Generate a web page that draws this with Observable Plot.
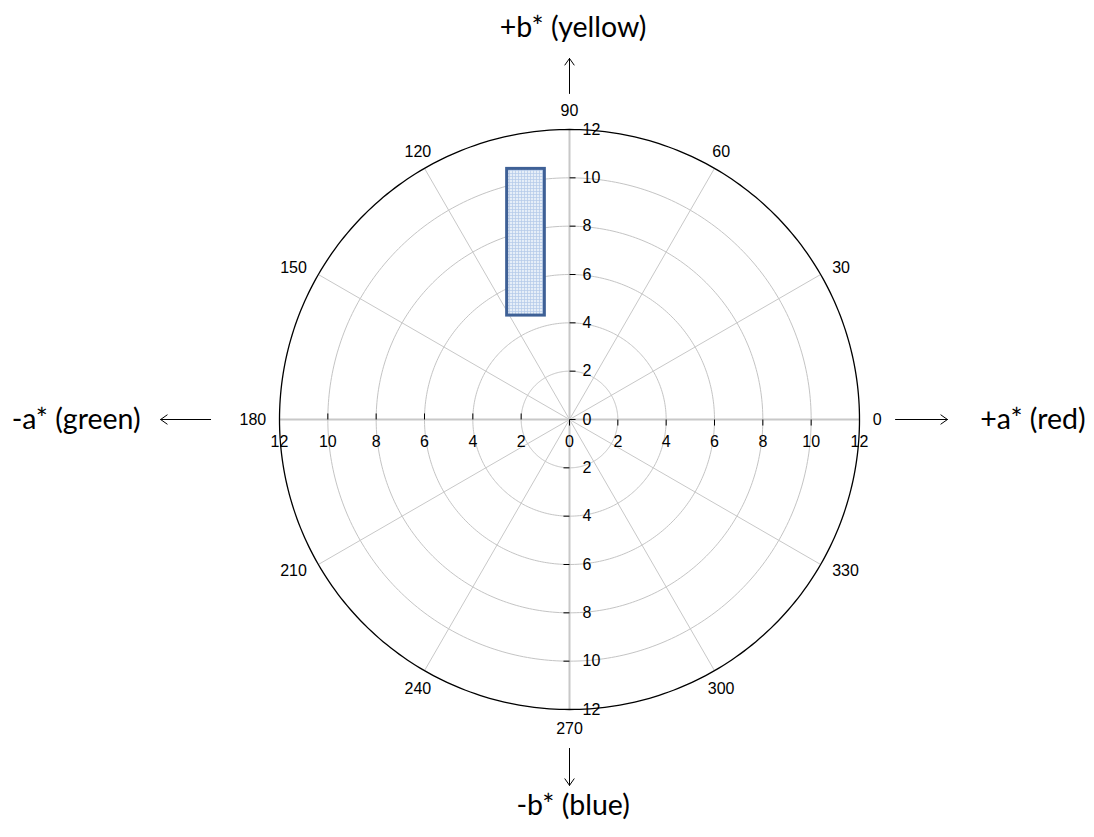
<!DOCTYPE html>
<html>
<head>
<meta charset="utf-8">
<script src="https://cdn.jsdelivr.net/npm/d3@7"></script>
<script src="https://cdn.jsdelivr.net/npm/@observablehq/plot@0.6"></script>
<style>
  html, body { margin: 0; padding: 0; background: #fff; }
  #chart svg { display: block; }
</style>
</head>
<body>
<svg width="0" height="0" style="position:absolute">
  <defs>
    <pattern id="gridfill" width="3" height="3" patternUnits="userSpaceOnUse">
      <rect width="3" height="3" fill="#e6eef8"></rect>
      <path d="M2.5 0V3M0 2.5H3" stroke="#b3c9e8" stroke-width="0.7"></path>
    </pattern>
  </defs>
</svg>
<div id="chart"></div>
<script>
// ---- data ----
const ringRadii = [2, 4, 6, 8, 10];
const outerRadius = 12;
const spokeAngles = [0, 30, 60, 90, 120, 150, 180, 210, 240, 270, 300, 330];
const angleLabels = ["0", "30", "60", "90", "120", "150", "180", "210", "240", "270", "300", "330"];
const axisTicks = [-12, -10, -8, -6, -4, -2, 0, 2, 4, 6, 8, 10, 12];
const tickLabels = ["12", "10", "8", "6", "4", "2", "0", "2", "4", "6", "8", "10", "12"];
const rangeA = [-2.58, -1.02];   // a* extent of the box
const rangeB = [4.30, 10.37];    // b* extent of the box
const axisTitles = ["+a* (red)", "+b* (yellow)", "-a* (green)", "-b* (blue)"];

// ---- derived geometry ----
const deg = Math.PI / 180;
function circlePts(r) {
  const pts = [];
  for (let t = 0; t <= 360; t += 1) pts.push({r, x: r * Math.cos(t * deg), y: r * Math.sin(t * deg)});
  return pts;
}
const ringPts = ringRadii.flatMap(circlePts);
const outerPts = circlePts(outerRadius);
const spokes = spokeAngles.map(a => ({x: outerRadius * Math.cos(a * deg), y: outerRadius * Math.sin(a * deg), a}));
const mainAxes = spokes.filter(d => d.a % 90 === 0);
const lr = 12.55;
const angleData = spokeAngles.map((a, i) => {
  const c = Math.cos(a * deg), s = Math.sin(a * deg);
  return {label: angleLabels[i], c, s, x: lr * c, y: lr * s};
});
const tickData = axisTicks.map((v, i) => ({v, label: tickLabels[i], t: v >= 0 ? 0.25 : -0.25}));
const box = [{x1: rangeA[0], x2: rangeA[1], y1: rangeB[0], y2: rangeB[1]}];
const titleFont = "Lato, 'Open Sans', sans-serif";
const titleSize = 28.5;
const arrowOpts = {x1: "x1", y1: "y1", x2: "x2", y2: "y2", stroke: "#000", strokeWidth: 1, headLength: 12, headAngle: 70};

const chart = Plot.plot({
  width: 1094,
  height: 837,
  marginLeft: 279,
  marginRight: 235,
  marginTop: 129,
  marginBottom: 128,
  x: {domain: [-12, 12], axis: null},
  y: {domain: [-12, 12], axis: null},
  style: {fontFamily: "'Liberation Sans', Arial, sans-serif", fontSize: "16px", background: "#fff", color: "#000"},
  marks: [
    Plot.line(ringPts, {x: "x", y: "y", z: "r", stroke: "#c4c4c4", strokeWidth: 1}),
    Plot.link(spokes, {x1: 0, y1: 0, x2: "x", y2: "y", stroke: "#c8c8c8", strokeWidth: 1}),
    Plot.link(mainAxes, {x1: 0, y1: 0, x2: "x", y2: "y", stroke: "#c8c8c8", strokeWidth: 2}),
    Plot.line(outerPts, {x: "x", y: "y", stroke: "#000", strokeWidth: 1.3}),
    // ticks
    Plot.link(tickData, {x1: 0, x2: "t", y1: "v", y2: "v", stroke: "#000", strokeWidth: 1}),
    Plot.link(tickData, {y1: 0, y2: d => -d.t, x1: "v", x2: "v", stroke: "#000", strokeWidth: 1}),
    Plot.text(tickData, {x: 0, y: "v", text: "label", dx: 13, textAnchor: "start", fill: "#000"}),
    Plot.text(tickData, {x: "v", y: 0, text: "label", dy: 22, fill: "#000"}),
    // angle labels
    Plot.text(angleData.filter(d => d.c > 0.6), {x: "x", y: "y", text: "label", textAnchor: "start", fill: "#000"}),
    Plot.text(angleData.filter(d => d.c < -0.6), {x: "x", y: "y", text: "label", textAnchor: "end", fill: "#000"}),
    Plot.text(angleData.filter(d => Math.abs(d.c) <= 0.6 && d.s > 0), {x: "x", y: "y", text: "label", lineAnchor: "bottom", fill: "#000"}),
    Plot.text(angleData.filter(d => Math.abs(d.c) <= 0.6 && d.s < 0), {x: "x", y: "y", text: "label", lineAnchor: "top", fill: "#000"}),
    // box
    Plot.rect(box, {x1: "x1", x2: "x2", y1: "y1", y2: "y2", fill: "url(#gridfill)", stroke: "#3e6096", strokeWidth: 3}),
    // arrows
    Plot.arrow([{x1: 0, y1: 13.49, x2: 0, y2: 14.94}], arrowOpts),
    Plot.arrow([{x1: 0, y1: -13.61, x2: 0, y2: -15.14}], arrowOpts),
    Plot.arrow([{x1: 13.49, y1: 0, x2: 15.64, y2: 0}], arrowOpts),
    Plot.arrow([{x1: -14.85, y1: 0, x2: -16.92, y2: 0}], arrowOpts),
    // axis titles
    Plot.text([axisTitles[0]], {x: 17.0, y: 0, text: d => d, textAnchor: "start", fontSize: titleSize, fontFamily: titleFont, fill: "#000"}),
    Plot.text([axisTitles[1]], {x: 0.15, y: 16.22, text: d => d, fontSize: titleSize, fontFamily: titleFont, fill: "#000"}),
    Plot.text([axisTitles[2]], {x: -17.75, y: 0, text: d => d, textAnchor: "end", fontSize: titleSize, fontFamily: titleFont, fill: "#000"}),
    Plot.text([axisTitles[3]], {x: 0.15, y: -15.97, text: d => d, fontSize: titleSize, fontFamily: titleFont, fill: "#000"})
  ]
});
document.getElementById("chart").appendChild(chart);
</script>
</body>
</html>
